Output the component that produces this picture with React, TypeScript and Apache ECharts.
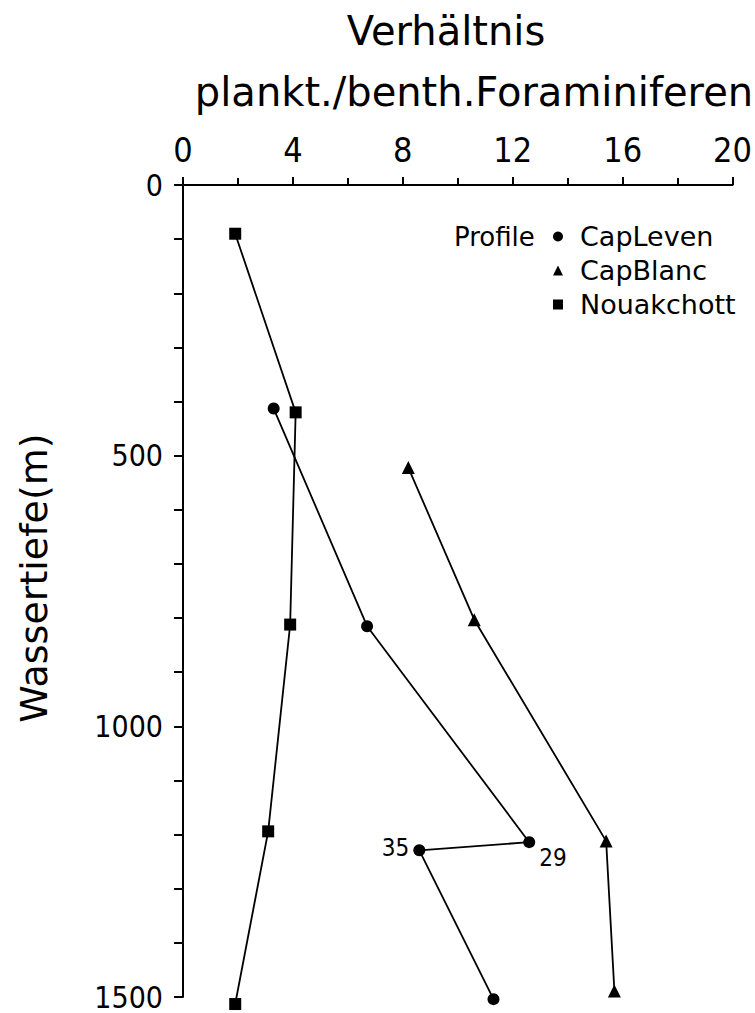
import React, { useEffect, useRef } from "react";
import * as echarts from "echarts";

const xTicks = [0, 4, 8, 12, 16, 20];
const yTicks = [0, 500, 1000, 1500];

const capLevenX = [3.3, 6.7, 12.6, 8.6, 11.3];
const capLevenDepth = [413, 815, 1214, 1229, 1504];
const capLevenLabels = ["", "", "29", "35", ""];

const capBlancX = [8.2, 10.6, 15.4, 15.7];
const capBlancDepth = [522, 803, 1212, 1489];

const nouakchottX = [1.9, 4.1, 3.9, 3.1, 1.9];
const nouakchottDepth = [90, 420, 812, 1194, 1513];

const FONT = "DejaVu Sans";
const NUMFONT = "'DejaVu Sans Condensed', 'DejaVu Sans'";

export default function App() {
  const ref = useRef<HTMLDivElement>(null);
  useEffect(() => {
    if (!ref.current) return;
    const chart = echarts.init(ref.current, null, { renderer: "svg" });
    const mk = (xs: number[], ys: number[]) => xs.map((x, i) => [x, ys[i]]);
    const lineStyle = { color: "#000", width: 1.8 };
    const itemStyle = { color: "#000" };
    chart.setOption({
      animation: false,
      backgroundColor: "#fff",
      textStyle: { fontFamily: FONT, color: "#000" },
      grid: { left: 183, top: 185, right: 17, bottom: 16, containLabel: false },
      graphic: [
        {
          type: "text",
          x: 446,
          y: 31,
          style: {
            text: "Verhältnis",
            fontSize: 40,
            fontFamily: FONT,
            fill: "#000",
            align: "center",
            verticalAlign: "middle",
          },
        },
        {
          type: "text",
          x: 474,
          y: 92,
          style: {
            text: "plankt./benth.Foraminiferen",
            fontSize: 40,
            fontFamily: FONT,
            fill: "#000",
            align: "center",
            verticalAlign: "middle",
          },
        },
        {
          type: "text",
          x: 34,
          y: 578,
          rotation: Math.PI / 2,
          style: {
            text: "Wassertiefe(m)",
            fontSize: 38,
            fontFamily: FONT,
            fill: "#000",
            align: "center",
            verticalAlign: "middle",
          },
        },
        {
          type: "text",
          x: 454,
          y: 237,
          style: {
            text: "Profile",
            fontSize: 26,
            fontFamily: FONT,
            fill: "#000",
            align: "left",
            verticalAlign: "middle",
          },
        },
      ],
      legend: {
        orient: "vertical",
        left: 553,
        top: 223,
        itemWidth: 10,
        itemHeight: 10,
        itemGap: 7,
        padding: 0,
        textStyle: {
          fontSize: 27,
          lineHeight: 27,
          fontFamily: FONT,
          color: "#000",
          padding: [0, 0, 0, 12],
        },
        data: [
          { name: "CapLeven", icon: "circle" },
          { name: "CapBlanc", icon: "triangle" },
          { name: "Nouakchott", icon: "rect" },
        ],
      },
      xAxis: {
        type: "value",
        position: "top",
        min: xTicks[0],
        max: xTicks[xTicks.length - 1],
        interval: 4,
        axisLine: { show: true, lineStyle: { color: "#000", width: 2 } },
        axisTick: { show: true, length: 8, lineStyle: { color: "#000", width: 2 } },
        minorTick: { show: true, splitNumber: 2, length: 7, lineStyle: { color: "#000", width: 2 } },
        splitLine: { show: false },
        axisLabel: { fontSize: 34, color: "#000", margin: 18, fontFamily: NUMFONT },
      },
      yAxis: {
        type: "value",
        inverse: true,
        min: yTicks[0],
        max: yTicks[yTicks.length - 1],
        interval: 500,
        axisLine: { show: true, lineStyle: { color: "#000", width: 2 } },
        axisTick: { show: true, length: 9, lineStyle: { color: "#000", width: 2 } },
        minorTick: { show: true, splitNumber: 5, length: 9, lineStyle: { color: "#000", width: 2 } },
        splitLine: { show: false },
        axisLabel: {
          fontSize: 30,
          lineHeight: 28,
          color: "#000",
          margin: 20,
          fontFamily: NUMFONT,
          formatter: (v: number) => String(v),
        },
      },
      series: [
        {
          name: "CapLeven",
          type: "line",
          clip: false,
          symbol: "circle",
          symbolSize: 12,
          lineStyle,
          itemStyle,
          data: mk(capLevenX, capLevenDepth).map((v, i) => ({
            value: v,
            label: capLevenLabels[i]
              ? {
                  show: true,
                  formatter: capLevenLabels[i],
                  position: capLevenLabels[i] === "29" ? "right" : "left",
                  distance: 4,
                  offset: capLevenLabels[i] === "29" ? [0, 16] : [0, -2],
                  fontSize: 24,
                  color: "#000",
                  fontFamily: NUMFONT,
                }
              : { show: false },
          })),
        },
        {
          name: "CapBlanc",
          type: "line",
          clip: false,
          symbol: "triangle",
          symbolSize: 13,
          lineStyle,
          itemStyle,
          data: mk(capBlancX, capBlancDepth),
        },
        {
          name: "Nouakchott",
          type: "line",
          clip: false,
          symbol: "rect",
          symbolSize: 12,
          lineStyle,
          itemStyle,
          data: mk(nouakchottX, nouakchottDepth),
        },
      ],
    });
    return () => chart.dispose();
  }, []);
  return (
    <div
      ref={ref}
      style={{ position: "absolute", left: 0, top: 0, width: 755, height: 1013 }}
    />
  );
}
